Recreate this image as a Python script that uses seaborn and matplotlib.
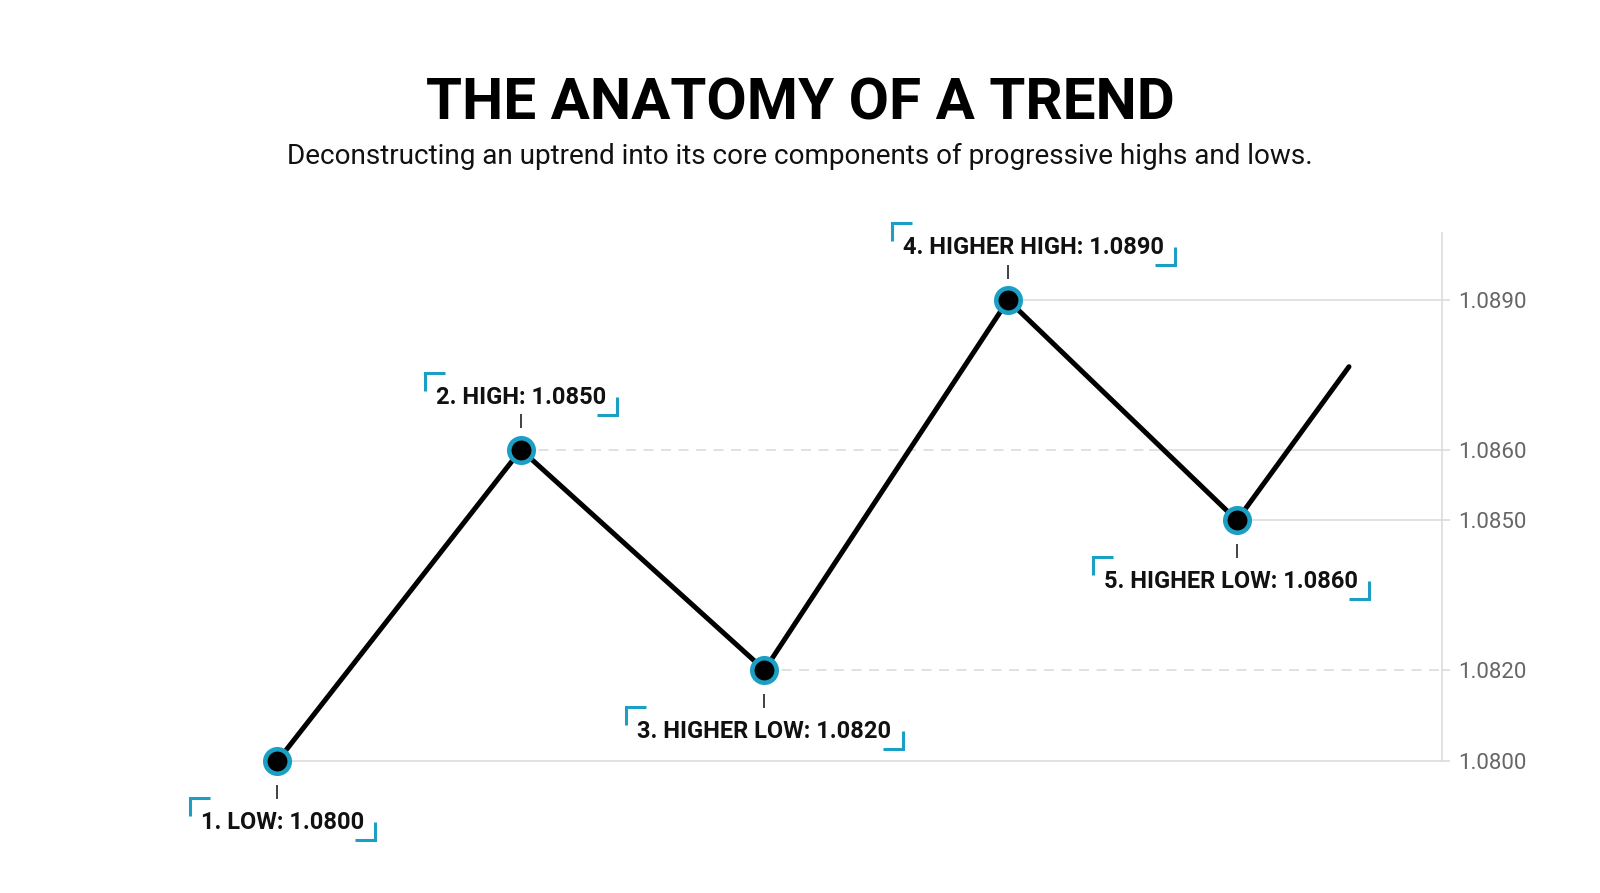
import matplotlib
matplotlib.use("Agg")
import matplotlib.pyplot as plt
import matplotlib.transforms as mtransforms
from matplotlib.lines import Line2D
import pandas as pd
import seaborn as sns

# ------------------------------------------------------------
# Data (prices read off the chart's vertical positions)
# ------------------------------------------------------------
swing_x = [0, 1, 2, 3, 3.94, 4.4]
swing_price = [1.0800, 1.08608, 1.08178, 1.0890, 1.0847, 1.0877]

pivot_labels = ["1. LOW: 1.0800", "2. HIGH: 1.0850", "3. HIGHER LOW: 1.0820",
                "4. HIGHER HIGH: 1.0890", "5. HIGHER LOW: 1.0860"]
pivot_side = ["below", "above", "below", "above", "below"]

# price-axis labels, one per pivot
tick_labels = ["1.0800", "1.0860", "1.0820", "1.0890", "1.0850"]

df = pd.DataFrame({"x": swing_x, "price": swing_price})
pivots = df.iloc[:len(pivot_labels)]

CYAN = "#1C9FC4"
GRID = "#dcdcdc"

# ------------------------------------------------------------
# Figure
# ------------------------------------------------------------
sns.set_style("white")
plt.rcParams["font.family"] = ["Roboto", "DejaVu Sans"]

fig = plt.figure(figsize=(16, 8.93), dpi=100)
ax = fig.add_axes([180 / 1600, 55 / 893, 1262 / 1600, 605 / 893])
ax.set_xlim(-0.4, 4.782)
ax.set_ylim(1.0785, 1.09031)

# guide lines from each pivot to the price axis
xmax = ax.get_xlim()[1]
ax.hlines(swing_price[0], swing_x[0], xmax, color=GRID, lw=1.2, zorder=1)
ax.hlines(swing_price[3], swing_x[3], xmax, color=GRID, lw=1.2, zorder=1)
ax.hlines(swing_price[4], swing_x[4], xmax, color=GRID, lw=1.2, zorder=1)
ax.hlines(swing_price[1], swing_x[1], 3.58, color=GRID, lw=1.2,
          linestyles=(0, (6, 4.5)), zorder=1)
ax.hlines(swing_price[1], 3.58, xmax, color=GRID, lw=1.2, zorder=1)
ax.hlines(swing_price[2], swing_x[2], xmax, color=GRID, lw=1.2,
          linestyles=(0, (6, 4.5)), zorder=1)

sns.lineplot(data=df, x="x", y="price", sort=False, color="black",
             lw=3.6, ax=ax, zorder=3)
sns.scatterplot(data=pivots, x="x", y="price", s=310, color="black",
                edgecolor=CYAN, linewidth=3.3, ax=ax, zorder=4)

# labels with connector ticks
x_shift = [3.6, 0, 0, 18, -4.3]
texts = []
for i, lab in enumerate(pivot_labels):
    above = pivot_side[i] == "above"
    dy = 33 if above else -49
    t = ax.annotate(lab, (swing_x[i], swing_price[i]),
                    xytext=(x_shift[i], dy), textcoords="offset points",
                    ha="center", va="baseline", fontsize=17,
                    fontweight="bold", color="#111111", zorder=5)
    texts.append(t)
    tick_dy = 28.5 if above else -31
    tr = mtransforms.offset_copy(ax.transData, fig=fig, x=0, y=tick_dy,
                                 units="dots")
    ax.plot(swing_x[i], swing_price[i], marker="|", markersize=10.5,
            markeredgewidth=1.3, color="#333333", transform=tr)

# axis styling
for side in ["top", "left", "bottom"]:
    ax.spines[side].set_visible(False)
ax.spines["right"].set_color(GRID)
ax.spines["right"].set_linewidth(1.2)
ax.spines["right"].set_bounds(1.0800, 1.09031)
ax.yaxis.tick_right()
ax.set_yticks(swing_price[:5])
ax.set_yticklabels(tick_labels)
ax.set_xticks([])
ax.tick_params(axis="y", length=5.8, width=1.2, color=GRID, pad=6,
               labelsize=16, labelcolor="#666666")
ax.set_xlabel("")
ax.set_ylabel("")

# titles
fig.text(0.5, 1 - 119.5 / 893, "THE ANATOMY OF A TREND", ha="center",
         va="baseline", fontsize=42, fontweight="bold", color="black")
fig.text(0.5, 1 - 164 / 893,
         "Deconstructing an uptrend into its core components of progressive highs and lows.",
         ha="center", va="baseline", fontsize=20.1, color="#111111")

# corner brackets around the labels
fig.canvas.draw()
renderer = fig.canvas.get_renderer()
inv = fig.transFigure.inverted()
for t in texts:
    bb = t.get_window_extent(renderer)
    left, right = bb.x0 - 11, bb.x1 + 11
    top, bottom = bb.y1 + 13, bb.y0 - 6
    arm_h, arm_v = 20, 18
    corners = [
        [(left + arm_h, top), (left, top), (left, top - arm_v)],
        [(right - arm_h, bottom), (right, bottom), (right, bottom + arm_v)],
    ]
    for pts in corners:
        f = inv.transform(pts)
        fig.add_artist(Line2D(f[:, 0], f[:, 1], color=CYAN, lw=2.2,
                              solid_capstyle="butt", solid_joinstyle="miter",
                              transform=fig.transFigure))

fig.savefig("out.png", dpi=100, facecolor="white")
